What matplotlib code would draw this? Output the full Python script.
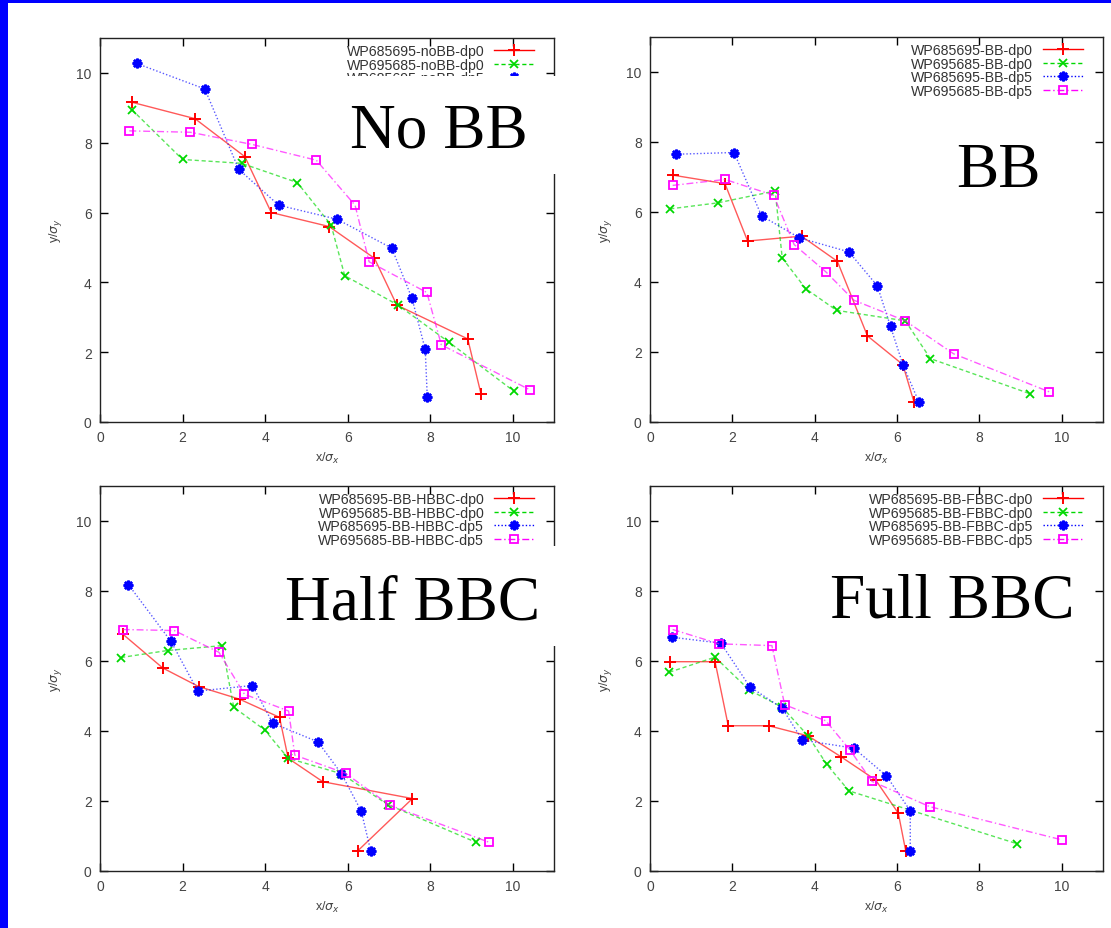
import numpy as np
import matplotlib
matplotlib.use("Agg")
import matplotlib.pyplot as plt
from matplotlib.patches import Rectangle

# ── beam centroid data (x/sigma_x, y/sigma_y) ─────────────────────────────────
# series order in each panel: 685695-dp0, 695685-dp0, 685695-dp5, 695685-dp5

nobb_x = [
    [0.77, 2.30, 3.51, 4.15, 5.55, 6.65, 7.19, 8.91, 9.23],
    [0.77, 2.00, 3.43, 4.78, 5.60, 5.93, 7.22, 8.45, 10.02],
    [0.89, 2.54, 3.36, 4.33, 5.74, 7.07, 7.56, 7.88, 7.93],
    [0.71, 2.19, 3.69, 5.24, 6.18, 6.52, 7.92, 8.27, 10.42],
]
nobb_y = [
    [9.16, 8.69, 7.60, 6.00, 5.60, 4.69, 3.35, 2.38, 0.81],
    [8.95, 7.52, 7.41, 6.86, 5.64, 4.19, 3.35, 2.29, 0.89],
    [10.27, 9.54, 7.24, 6.21, 5.81, 4.98, 3.54, 2.08, 0.71],
    [8.34, 8.30, 7.95, 7.50, 6.21, 4.59, 3.71, 2.21, 0.92],
]

bb_x = [
    [0.57, 1.82, 2.37, 3.68, 4.55, 5.28, 6.14, 6.41],
    [0.49, 1.64, 3.04, 3.21, 3.78, 4.53, 6.20, 6.81, 9.22],
    [0.63, 2.04, 2.71, 3.63, 4.83, 5.52, 5.84, 6.14, 6.53],
    [0.55, 1.82, 3.00, 3.50, 4.27, 4.95, 6.20, 7.37, 9.70],
]
bb_y = [
    [7.05, 6.81, 5.17, 5.31, 4.59, 2.46, 1.64, 0.57],
    [6.09, 6.26, 6.60, 4.69, 3.81, 3.19, 2.89, 1.81, 0.81],
    [7.65, 7.70, 5.89, 5.26, 4.86, 3.89, 2.73, 1.64, 0.57],
    [6.76, 6.93, 6.48, 5.07, 4.29, 3.48, 2.89, 1.95, 0.86],
]

hbbc_x = [
    [0.55, 1.52, 2.39, 3.38, 4.35, 4.56, 5.40, 7.57, 6.24],
    [0.51, 1.64, 2.96, 3.24, 3.99, 4.56, 5.85, 6.97, 9.11],
    [0.69, 1.72, 2.37, 3.69, 4.19, 5.28, 5.85, 6.33, 6.56],
    [0.55, 1.80, 2.88, 3.50, 4.57, 4.72, 5.95, 7.02, 9.43],
]
hbbc_y = [
    [6.77, 5.80, 5.27, 4.91, 4.39, 3.22, 2.55, 2.07, 0.57],
    [6.10, 6.30, 6.44, 4.68, 4.03, 3.22, 2.78, 1.90, 0.82],
    [8.18, 6.56, 5.14, 5.30, 4.22, 3.69, 2.78, 1.71, 0.57],
    [6.90, 6.87, 6.25, 5.05, 4.57, 3.31, 2.79, 1.88, 0.82],
]

fbbc_x = [
    [0.48, 1.58, 1.90, 2.88, 3.84, 4.63, 5.48, 6.03, 6.21],
    [0.47, 1.58, 2.41, 3.21, 3.84, 4.29, 4.83, 8.91],
    [0.53, 1.72, 2.42, 3.21, 3.70, 4.95, 5.74, 6.32, 6.32],
    [0.55, 1.68, 2.96, 3.27, 4.27, 4.86, 5.39, 6.79, 10.00],
]
fbbc_y = [
    [5.98, 5.98, 4.15, 4.15, 3.86, 3.27, 2.60, 1.65, 0.57],
    [5.68, 6.11, 5.17, 4.68, 3.86, 3.05, 2.29, 0.78],
    [6.68, 6.51, 5.27, 4.65, 3.74, 3.51, 2.72, 1.72, 0.57],
    [6.90, 6.49, 6.44, 4.75, 4.29, 3.45, 2.56, 1.84, 0.89],
]

nobb_labels = ["WP685695-noBB-dp0", "WP695685-noBB-dp0",
               "WP685695-noBB-dp5", "WP695685-noBB-dp5"]
bb_labels = ["WP685695-BB-dp0", "WP695685-BB-dp0",
             "WP685695-BB-dp5", "WP695685-BB-dp5"]
hbbc_labels = ["WP685695-BB-HBBC-dp0", "WP695685-BB-HBBC-dp0",
               "WP685695-BB-HBBC-dp5", "WP695685-BB-HBBC-dp5"]
fbbc_labels = ["WP685695-BB-FBBC-dp0", "WP695685-BB-FBBC-dp0",
               "WP685695-BB-FBBC-dp5", "WP695685-BB-FBBC-dp5"]

titles = ["No BB", "BB", "Half BBC", "Full BBC"]
x_ticks = [0, 2, 4, 6, 8, 10]
y_ticks = [0, 2, 4, 6, 8, 10]

# ── gnuplot-like line styles ───────────────────────────────────────────────────
STYLES = [
    dict(color="#ff0000", ls="-", marker="+", ms=9, mew=1.4),
    dict(color="#00d800", ls=(0, (3, 2)), marker="x", ms=6, mew=1.3),
    dict(color="#0000ff", ls=(0, (1, 1.5)), marker=(8, 2, 0), ms=7, mew=1.8),
    dict(color="#ff00ff", ls=(0, (5, 2, 1, 2)), marker="s", ms=6, mew=1.3,
         mfc="none"),
]

W, H = 1111, 929
fig = plt.figure(figsize=(W / 100, H / 100), dpi=100)
fig.patch.set_facecolor("white")
plt.rcParams["font.family"] = ["Liberation Sans", "DejaVu Sans"]


def px_axes(left, top, right, bottom):
    return fig.add_axes([left / W, 1 - bottom / H,
                         (right - left) / W, (bottom - top) / H])


def draw_panel(ax, xs, ys, labels):
    for x, y, lab, st in zip(xs, ys, labels, STYLES):
        ax.plot(x, y, color=st["color"], ls=st["ls"], lw=1.0, alpha=0.65,
                label=lab)
        ax.plot(x, y, ls="none", marker=st["marker"], ms=st["ms"],
                mew=st["mew"], color=st["color"],
                mfc=st.get("mfc", st["color"]))
    # legend proxies: line + marker together
    handles = []
    for st, lab in zip(STYLES, labels):
        h, = ax.plot([], [], color=st["color"], ls=st["ls"], lw=1.0,
                     marker=st["marker"], ms=st["ms"], mew=st["mew"],
                     mfc=st.get("mfc", st["color"]), label=lab)
        handles.append(h)
    ax.legend(handles=handles, loc="upper right", frameon=False,
              markerfirst=False, numpoints=1, fontsize=10.2,
              labelspacing=-0.03, handlelength=2.8, handletextpad=0.7,
              borderaxespad=0.0, borderpad=0.3,
              bbox_to_anchor=(0.965, 0.995), labelcolor="#333333")
    ax.set_xlim(0, 11)
    ax.set_ylim(0, 11)
    ax.set_xticks(x_ticks)
    ax.set_yticks(y_ticks)
    ax.tick_params(direction="in", top=True, right=True, length=6,
                   width=1.0, labelsize=10, labelcolor="#444444", pad=6)
    for s in ax.spines.values():
        s.set_linewidth(1.0)
        s.set_color("#222222")
    ax.set_xlabel(r"x/$\sigma_x$", fontsize=9, color="#444444", labelpad=4)
    ax.set_ylabel(r"y/$\sigma_y$", fontsize=9, color="#444444", labelpad=9)


panels = [
    ((100, 39, 554, 423), nobb_x, nobb_y, nobb_labels),
    ((650, 38, 1103, 423), bb_x, bb_y, bb_labels),
    ((100, 487, 554, 872), hbbc_x, hbbc_y, hbbc_labels),
    ((650, 487, 1103, 872), fbbc_x, fbbc_y, fbbc_labels),
]
for box, xs, ys, labels in panels:
    ax = px_axes(*box)
    draw_panel(ax, xs, ys, labels)

# white label boxes that sit over the plots
for (x0, y0, x1, y1) in [(347, 77, 560, 175), (283, 547, 560, 647)]:
    fig.add_artist(Rectangle((x0 / W, 1 - y1 / H), (x1 - x0) / W,
                             (y1 - y0) / H, transform=fig.transFigure,
                             facecolor="white", edgecolor="none", zorder=5))

# big serif titles
for title, (tx, ty) in zip(titles, [(350, 148), (956, 187),
                                    (285, 620), (830, 617)]):
    fig.text(tx / W, 1 - ty / H, title, fontsize=45.5,
             family="Liberation Serif", ha="left", va="baseline",
             color="black", zorder=6)

# blue slide frame
fig.add_artist(Rectangle((0, 0), 8 / W, 1, transform=fig.transFigure,
                         facecolor="#0000ff", edgecolor="none", zorder=7))
fig.add_artist(Rectangle((0, 1 - 4 / H), 1, 4 / H, transform=fig.transFigure,
                         facecolor="#0000ff", edgecolor="none", zorder=7))

fig.savefig("out.png", dpi=100, facecolor="white")
